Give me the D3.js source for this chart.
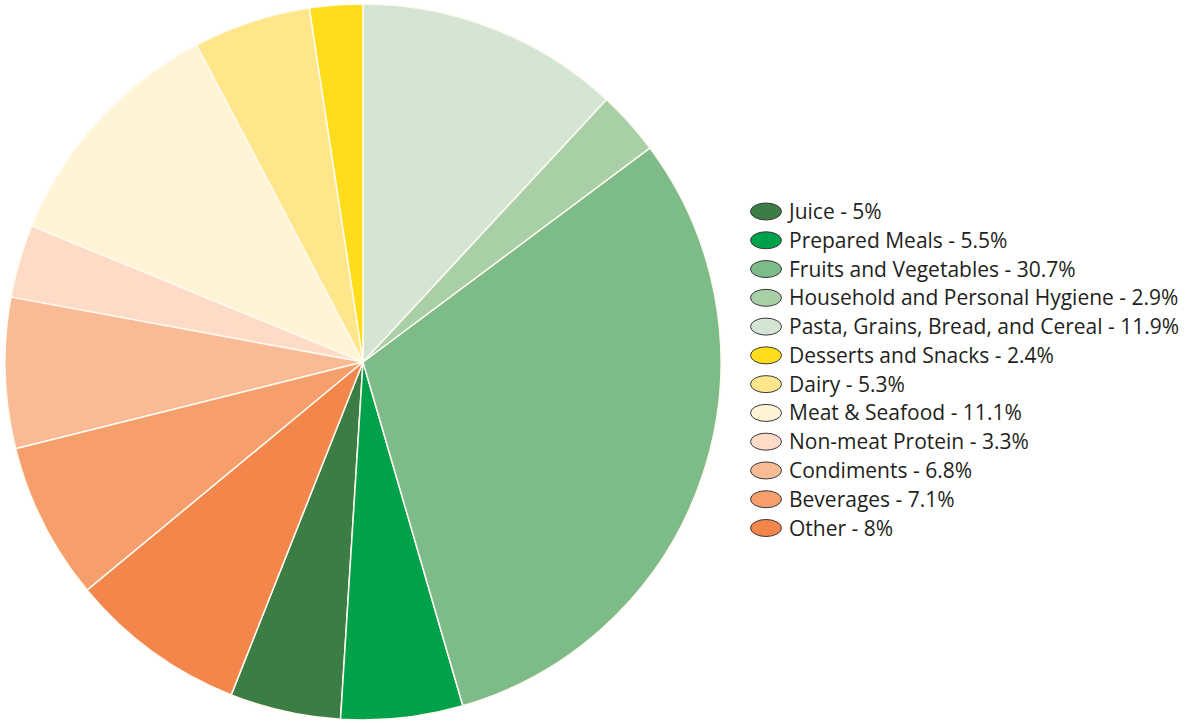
<!DOCTYPE html>
<html><head><meta charset="utf-8">
<script src="https://cdn.jsdelivr.net/npm/d3@7"></script>
<style>body{margin:0;background:#fff}svg{display:block}</style>
</head><body>
<svg id="c" width="1190" height="723"></svg>
<script>
const categories = ["Juice","Prepared Meals","Fruits and Vegetables","Household and Personal Hygiene","Pasta, Grains, Bread, and Cereal","Desserts and Snacks","Dairy","Meat & Seafood","Non-meat Protein","Condiments","Beverages","Other"];
const values = [5,5.5,30.7,2.9,11.9,2.4,5.3,11.1,3.3,6.8,7.1,8];
const labels = ["5%","5.5%","30.7%","2.9%","11.9%","2.4%","5.3%","11.1%","3.3%","6.8%","7.1%","8%"];
const colors = ["#3b7d45","#00a14b","#7dbb88","#a9cfa6","#d5e5d3","#ffdd1a","#ffe68b","#fff4d6","#fddbc7","#f9bb95","#f79f6c","#f3864a"];

const svg = d3.select("#c");
const cx = 363, cy = 362, r = 358;
const total = d3.sum(values);
const toTop = d3.sum(values.slice(0,5)) / total;
const start = toTop * 2 * Math.PI;
const pie = d3.pie().sort(null).value(d => d).startAngle(start).endAngle(start - 2*Math.PI);
const arc = d3.arc().innerRadius(0).outerRadius(r);
const g = svg.append("g").attr("transform", `translate(${cx},${cy})`);
g.selectAll("path").data(pie(values)).join("path")
  .attr("d", arc)
  .attr("fill", (d,i) => colors[i])
  .attr("stroke", "#fffaf0").attr("stroke-width", 1.5).attr("stroke-linejoin","round");

const y = d3.scalePoint().domain(d3.range(categories.length)).range([211.5, 528]);
const lg = svg.append("g");
const items = lg.selectAll("g").data(categories).join("g")
  .attr("transform", (d,i) => `translate(766,${y(i)})`);
items.append("ellipse").attr("rx", 15.5).attr("ry", 8.5)
  .attr("fill", (d,i) => colors[i]).attr("stroke", "#3a3a3a").attr("stroke-width", 1);
items.append("text").attr("x", 23).attr("dy", "0.36em")
  .attr("font-family", "'Open Sans', sans-serif").attr("font-size", 21)
  .attr("fill", "#231f20")
  .text((d,i) => `${d} - ${labels[i]}`);
</script>
</body></html>
